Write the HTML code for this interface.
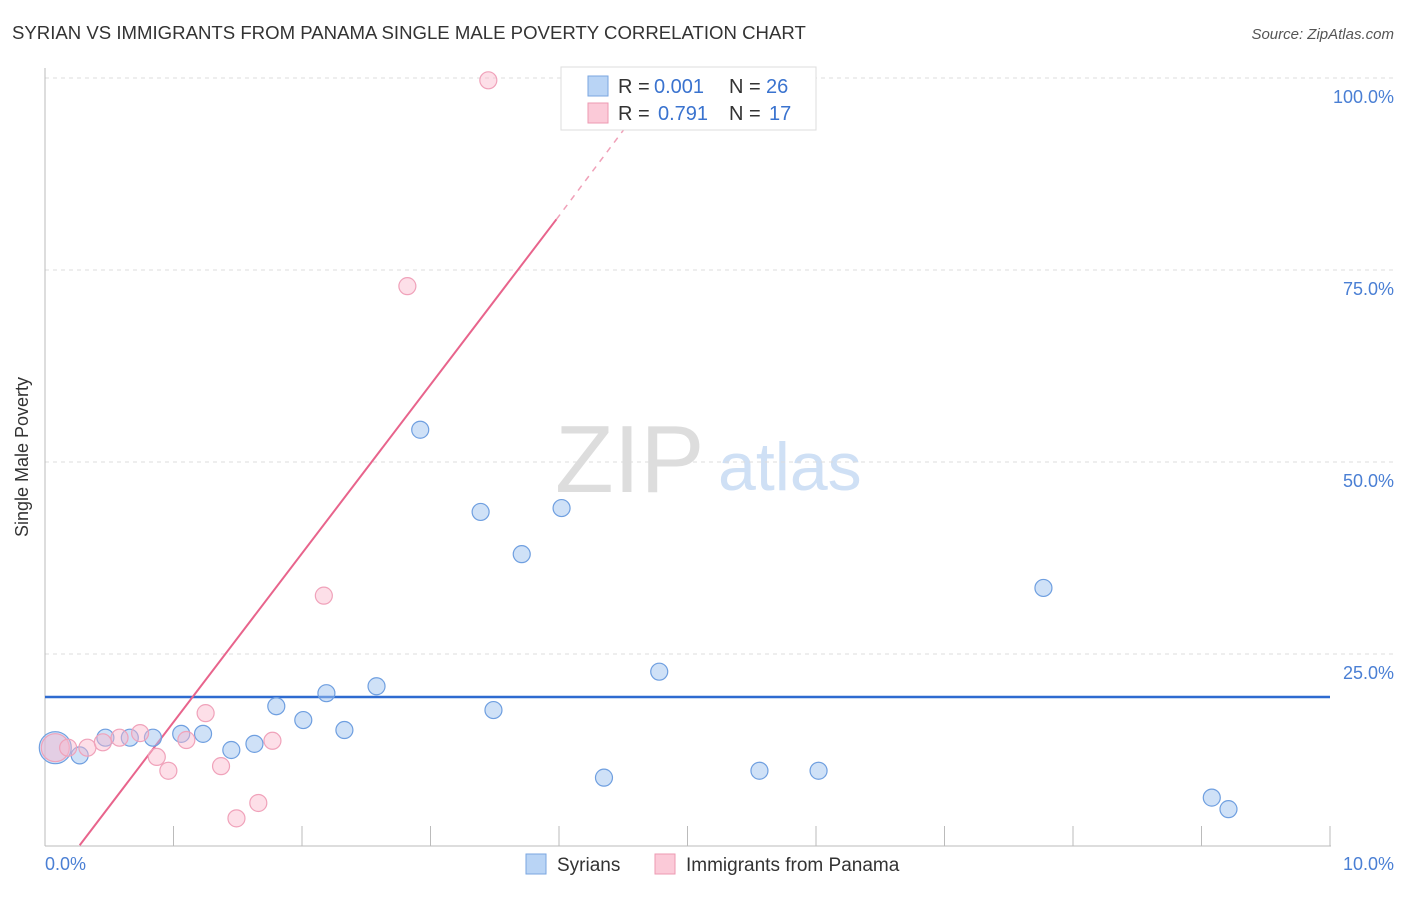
<!DOCTYPE html>
<html><head><meta charset="utf-8"><style>
body{margin:0;background:#fff;font-family:"Liberation Sans",sans-serif;}
svg text{font-family:"Liberation Sans",sans-serif;}
</style></head><body>
<svg width="1406" height="892" xmlns="http://www.w3.org/2000/svg">
<text x="12" y="39" font-size="18.6" fill="#333">SYRIAN VS IMMIGRANTS FROM PANAMA SINGLE MALE POVERTY CORRELATION CHART</text>
<text x="1394" y="39" font-size="15" fill="#555" font-style="italic" text-anchor="end">Source: ZipAtlas.com</text>
<text x="555" y="492" font-size="96" fill="#ddd" font-family="Liberation Serif">ZIP</text>
<text x="718" y="490" font-size="68" fill="#cfe0f5">atlas</text>
<g id="grid"></g>
<line x1="45" y1="68" x2="45" y2="846" stroke="#bbb"/>
<line x1="45" y1="846" x2="1331" y2="846" stroke="#bbb"/>
<text x="28" y="457" font-size="18" fill="#333" transform="rotate(-90 28 457)" text-anchor="middle">Single Male Poverty</text>
<text x="45" y="870" font-size="18" fill="#4a7fd4">0.0%</text>
<text x="1394" y="870" font-size="18" fill="#4a7fd4" text-anchor="end">10.0%</text>
<g id="lines"></g>
<g id="pts"></g>
<g>
<rect x="561" y="67" width="255" height="63" fill="#fff" stroke="#ddd"/>
<rect x="588" y="76" width="20" height="20" fill="#b9d4f5" stroke="#7aa6e0"/>
<text x="618" y="93" font-size="20" fill="#333">R =</text>
<text x="654" y="93" font-size="20" fill="#3a73cf">0.001</text>
<text x="729" y="93" font-size="20" fill="#333">N =</text>
<text x="766" y="93" font-size="20" fill="#3a73cf">26</text>
<rect x="588" y="103" width="20" height="20" fill="#fbcad8" stroke="#ec9ab2"/>
<text x="618" y="120" font-size="20" fill="#333">R =</text>
<text x="658" y="120" font-size="20" fill="#3a73cf">0.791</text>
<text x="729" y="120" font-size="20" fill="#333">N =</text>
<text x="769" y="120" font-size="20" fill="#3a73cf">17</text>
</g>
<g>
<rect x="526" y="854" width="20" height="20" fill="#b9d4f5" stroke="#7aa6e0"/>
<text x="557" y="871" font-size="19" fill="#333">Syrians</text>
<rect x="655" y="854" width="20" height="20" fill="#fbcad8" stroke="#ec9ab2"/>
<text x="686" y="871" font-size="19" fill="#333">Immigrants from Panama</text>
</g>
</svg>
<script>
const blueX=[0.08,0.27,0.47,0.66,0.84,1.06,1.23,1.45,1.63,1.80,2.01,2.19,2.33,2.58,2.92,3.39,3.49,3.71,4.02,4.35,4.78,5.56,6.02,7.77,9.08,9.21];
const blueY=[12.8,11.8,14.1,14.1,14.1,14.6,14.6,12.5,13.3,18.2,16.4,19.9,15.1,20.8,54.2,43.5,17.7,38.0,44.0,8.9,22.7,9.8,9.8,33.6,6.3,4.8];
const pinkX=[0.08,0.18,0.33,0.45,0.58,0.74,0.87,0.96,1.10,1.25,1.37,1.49,1.66,1.77,2.17,2.82,3.45];
const pinkY=[12.8,12.8,12.8,13.5,14.1,14.7,11.6,9.8,13.8,17.3,10.4,3.6,5.6,13.7,32.6,72.9,99.7];
const yTicks=[25,50,75,100];
const xTicks=[1,2,3,4,5,6,7,8,9,10];
const blueTrend=[19.4,19.4];
const pinkTrend=[0.27,0.1,3.98,81.6,4.55,94.3];
const sx=v=>45+v*128.5, sy=v=>846-v*7.68;
const NS="http://www.w3.org/2000/svg";
function mk(t,a,p){const e=document.createElementNS(NS,t);for(const k in a)e.setAttribute(k,a[k]);p.appendChild(e);return e;}
const g=document.getElementById('grid');
yTicks.forEach(t=>{
 const l=mk('line',{x1:45,x2:1395,y1:sy(t),y2:sy(t),stroke:'#ddd','stroke-dasharray':'4,4'},g);
 
 
 const tx=mk('text',{x:1394,y:sy(t)+25,'font-size':18,fill:'#4a7fd4','text-anchor':'end'},g);
 tx.textContent=t.toFixed(1)+'%';
 
 
});
xTicks.forEach(t=>{
 const l=mk('line',{x1:sx(t),x2:sx(t),y1:826,y2:846,stroke:'#bbb'},g);
 
 
});
const L=document.getElementById('lines');
const bl=mk('line',{x1:sx(0),x2:sx(10),y1:sy(blueTrend[0]),y2:sy(blueTrend[1]),stroke:'#2e6bd0','stroke-width':2.5},L);


const pl=mk('line',{x1:sx(pinkTrend[0]),y1:sy(pinkTrend[1]),x2:sx(pinkTrend[2]),y2:sy(pinkTrend[3]),stroke:'#e8648c','stroke-width':2},L);


const pd=mk('line',{x1:sx(pinkTrend[2]),y1:sy(pinkTrend[3]),x2:sx(pinkTrend[4]),y2:sy(pinkTrend[5]),stroke:'#f0a0b8','stroke-width':1.5,'stroke-dasharray':'6,6'},L);


const P=document.getElementById('pts');
blueX.forEach((x,i)=>{
 const c=mk('circle',{cx:sx(x),cy:sy(blueY[i]),r:i==0?16:8.5,fill:'rgba(160,196,240,0.5)',stroke:'#6f9fe0','stroke-width':1.2},P);
 
 
});
pinkX.forEach((x,i)=>{
 const c=mk('circle',{cx:sx(x),cy:sy(pinkY[i]),r:i==0?14:8.5,fill:'rgba(250,185,205,0.45)',stroke:'#f0a2ba','stroke-width':1.2},P);
 
 
});
</script>
</body></html>
